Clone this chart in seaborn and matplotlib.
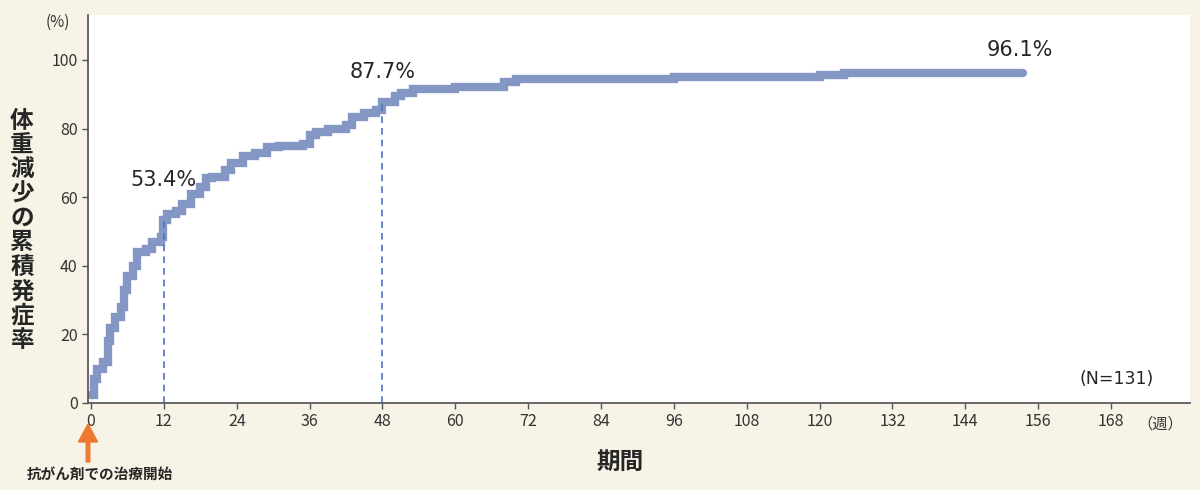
import matplotlib
matplotlib.use("Agg")
import matplotlib.pyplot as plt
import seaborn as sns
import pandas as pd

sns.set_theme(style="white")
plt.rcParams['font.family'] = ['Noto Sans CJK JP', 'DejaVu Sans']

weeks = [0, 0, 0.5, 1, 2, 2.8, 3.2, 4, 5, 5.5, 6, 7, 7.5, 9, 10, 11.5, 11.8, 12.5, 14, 15, 16.5, 18, 19, 20,
         22, 23, 25, 27, 29, 31, 35, 36, 37, 39, 42, 43, 45, 47, 48, 50, 51, 53, 60, 68, 70, 96, 120, 124, 153.5]
rate = [0, 4.5, 7, 10, 12, 18, 22, 25, 28, 33, 37, 40, 44, 45, 47, 48.5, 53.4, 55, 56, 58, 61, 63, 65.5, 66,
        68, 70, 72, 73, 74.5, 75, 75.5, 78, 79, 80, 81, 83.5, 84.5, 85.5, 87.7, 89.5, 90.5, 91.5, 92, 93.5, 94.5,
        95, 95.6, 96.1, 96.1]
marks_x = [12, 48]
marks_y = [53.4, 87.7]
xticks = list(range(0, 169, 12))
yticks = [0, 20, 40, 60, 80, 100]

df = pd.DataFrame({"week": weeks, "rate": rate})

fig = plt.figure(figsize=(12, 4.9), dpi=100, facecolor="#f7f3e6")
ax = fig.add_axes([0.0733, 0.1776, 0.9183, 0.791])
ax.set_facecolor("white")
sns.lineplot(data=df, x="week", y="rate", drawstyle="steps-post", color="#8497c4",
             linewidth=6, ax=ax, solid_joinstyle="miter")
for x, y in zip(marks_x, marks_y):
    ax.vlines(x, 0, y, colors="#4a72c4", linestyles=(0, (4, 3)), linewidth=1.2)
ax.text(12, 62, "53.4%", ha="center", va="bottom", fontsize=15, family="DejaVu Sans")
ax.text(48, 93.5, "87.7%", ha="center", va="bottom", fontsize=15, family="DejaVu Sans")
ax.text(153, 100, "96.1%", ha="center", va="bottom", fontsize=15, family="DejaVu Sans")

ax.set_xlim(-0.5, 181)
ax.set_ylim(0, 113)
ax.set_xticks(xticks)
ax.set_yticks(yticks)
ax.tick_params(axis="both", direction="out", length=4, width=1, color="#555555",
               labelsize=11.5, labelcolor="#333333", bottom=True, left=True)
for s in ["top", "right"]:
    ax.spines[s].set_visible(False)
for s in ["left", "bottom"]:
    ax.spines[s].set_color("#555555")
ax.set_xlabel("")
ax.set_ylabel("")

fig.text(70 / 1200, 1 - 22 / 490, "(%)", ha="right", va="center", fontsize=11, color="#333333")
fig.text(22 / 1200, 0.5 + 0.03, "\n".join("体重減少の累積発症率"), ha="center", va="center",
         fontsize=17, fontweight="bold", linespacing=1.02)
fig.text(620 / 1200, 1 - 462 / 490, "期間", ha="center", va="center", fontsize=17, fontweight="bold")
fig.text(1160 / 1200, 1 - 424 / 490, "（週）", ha="center", va="center", fontsize=11, color="#333333")
ax.text(175, 4.5, "(N=131)", ha="right", va="bottom", fontsize=12.5, family="DejaVu Sans")
fig.patches.append(matplotlib.patches.FancyArrow(88 / 1200, 1 - 462 / 490, 0, 38 / 490, width=0.003,
                   head_width=0.016, head_length=18 / 490, length_includes_head=True,
                   color="#ee7a2f", transform=fig.transFigure, figure=fig))
fig.text(100 / 1200, 1 - 474 / 490, "抗がん剤での治療開始", ha="center", va="center", fontsize=10.5,
         fontweight="bold")

fig.savefig("out.png", dpi=100, facecolor=fig.get_facecolor())
